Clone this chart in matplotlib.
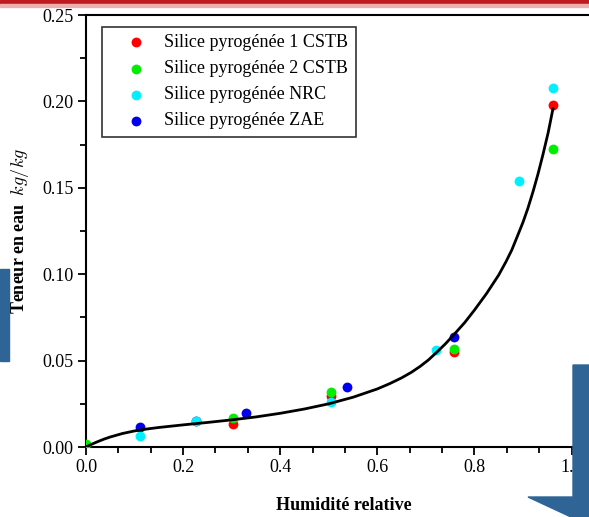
import matplotlib
matplotlib.use("Agg")
import matplotlib.pyplot as plt
from matplotlib.patches import Polygon, Rectangle
from matplotlib.ticker import MultipleLocator

plt.rcParams['font.family'] = ['Liberation Serif', 'DejaVu Serif']
plt.rcParams['mathtext.fontset'] = 'cm'

# Data
labels = ["Silice pyrogénée 1 CSTB", "Silice pyrogénée 2 CSTB",
          "Silice pyrogénée NRC", "Silice pyrogénée ZAE"]
colors = ["#FF0000", "#00EE00", "#00F0FF", "#0000EE"]

x_cstb1 = [0.303, 0.505, 0.759, 0.962]
y_cstb1 = [0.0133, 0.0295, 0.0550, 0.1980]
x_cstb2 = [0.0, 0.303, 0.505, 0.759, 0.962]
y_cstb2 = [0.0020, 0.0168, 0.0318, 0.0570, 0.1725]
x_nrc = [0.111, 0.227, 0.505, 0.720, 0.891, 0.962]
y_nrc = [0.0064, 0.0150, 0.0260, 0.0560, 0.1540, 0.2078]
x_zae = [0.111, 0.227, 0.330, 0.538, 0.759]
y_zae = [0.0116, 0.0150, 0.0197, 0.0347, 0.0637]

x_fit = [0.0, 0.0125, 0.025, 0.0375, 0.05, 0.075, 0.10, 0.125, 0.15, 0.20,
         0.25, 0.30, 0.35, 0.40, 0.45, 0.50, 0.55, 0.60, 0.625, 0.65, 0.67,
         0.688, 0.705, 0.72, 0.74, 0.759, 0.78, 0.80, 0.825, 0.85, 0.865,
         0.877, 0.89, 0.90, 0.91, 0.921, 0.931, 0.941, 0.952, 0.962]
y_fit = [0.0, 0.0017, 0.0032, 0.0046, 0.0058, 0.0078, 0.0093, 0.0104,
         0.0113, 0.0128, 0.0142, 0.0157, 0.0174, 0.0195, 0.0220, 0.0250,
         0.0288, 0.0336, 0.0366, 0.0400, 0.0432, 0.0466, 0.0503, 0.0542,
         0.0596, 0.0654, 0.0720, 0.0792, 0.0888, 0.0995, 0.1072, 0.1140,
         0.1230, 0.1300, 0.1380, 0.1480, 0.1580, 0.1690, 0.1820, 0.1960]

W, H = 589, 517
fig = plt.figure(figsize=(W / 100, H / 100), dpi=100)

x0px, x1px = 86, 571.5  # pixel of x=0 and x=1
ytop, ybot = 15, 447
xmax = 1.06
ax = fig.add_axes([x0px / W, (H - ybot) / H, (x1px - x0px) * xmax / W, (ybot - ytop) / H])

series = [(x_cstb1, y_cstb1), (x_cstb2, y_cstb2), (x_nrc, y_nrc), (x_zae, y_zae)]
zorders = [3, 4, 5, 2]
handles = []
for (xs, ys), c, lab, z in zip(series, colors, labels, zorders):
    h = ax.scatter(xs, ys, s=50, color=c, label=lab, zorder=z, linewidths=0)
    handles.append(h)

ax.plot(x_fit, y_fit, color="black", lw=2, zorder=6,
        solid_capstyle='round', solid_joinstyle='round')

ax.set_xlim(0, xmax)
ax.set_ylim(0, 0.25)
ax.xaxis.set_minor_locator(MultipleLocator(0.2 / 3))
ax.yaxis.set_minor_locator(MultipleLocator(0.025))
ax.set_xticks([0.0, 0.2, 0.4, 0.6, 0.8, 1.0])
ax.set_xticklabels(["0.0", "0.2", "0.4", "0.6", "0.8", "1.0"])
ax.set_yticks([0.0, 0.05, 0.10, 0.15, 0.20, 0.25])
ax.set_yticklabels(["0.00", "0.05", "0.10", "0.15", "0.20", "0.25"])
ax.tick_params(which='major', direction='out', length=6, width=1.3, labelsize=13, pad=3)
ax.tick_params(which='minor', direction='out', length=4, width=1.3)
ax.tick_params(axis='x', which='both', top=False)
ax.tick_params(axis='y', which='both', right=False)
for s in ['left', 'bottom', 'top']:
    ax.spines[s].set_linewidth(1.5)
ax.spines['right'].set_visible(False)

ax.set_xlabel("Humidité relative", fontsize=13, fontweight='bold', labelpad=15)
ax.set_ylabel("Teneur en eau  $kg/kg$", fontsize=13, fontweight='bold', labelpad=8)

leg = ax.legend(handles=handles, labels=labels, loc='upper left',
                bbox_to_anchor=((102 - x0px) / ((x1px - x0px) * xmax), 1 - (27 - ytop) / (ybot - ytop)),
                fontsize=13, frameon=True, fancybox=False, edgecolor='black',
                handletextpad=0.05, borderpad=0.4, labelspacing=0.5, handlelength=3.0,
                borderaxespad=0)
leg.get_frame().set_linewidth(1.2)

# Decorations
fig.patches.append(Rectangle((0, 1 - 4 / H), 1, 4 / H, transform=fig.transFigure,
                             color="#C01A1E", zorder=10))
fig.patches.append(Rectangle((0, 1 - 7 / H), 1, 3 / H, transform=fig.transFigure,
                             color="#EBB0B0", zorder=10))
fig.patches.append(Rectangle((0, 1 - 361 / H), 9 / W, 92 / H, transform=fig.transFigure,
                             color="#2E6496", zorder=10))
arrow_px = [(573, 365), (589, 365), (589, 517), (571, 517), (528, 497), (573, 497)]
arrow = [(x / W, 1 - y / H) for x, y in arrow_px]
fig.patches.append(Polygon(arrow, closed=True, transform=fig.transFigure,
                           color="#2E6496", zorder=10))

fig.savefig("out.png", dpi=100)
